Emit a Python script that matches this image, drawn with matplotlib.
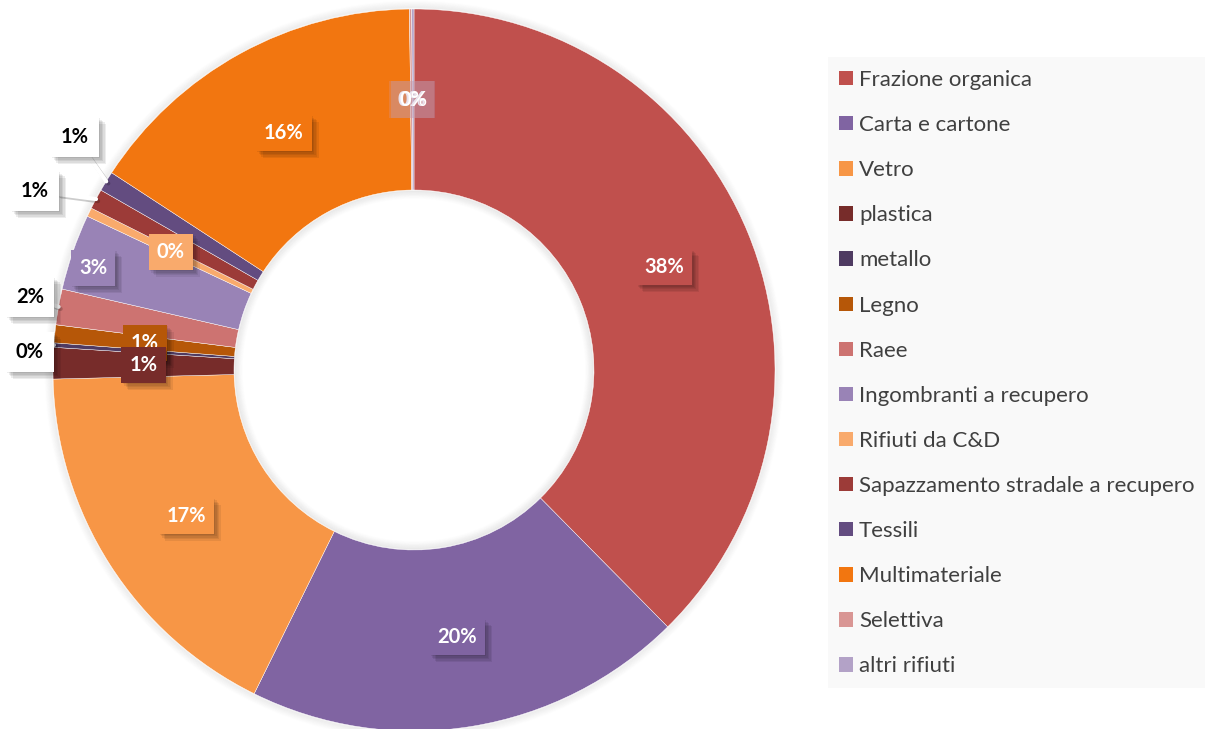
import numpy as np
import matplotlib.pyplot as plt
import matplotlib.patheffects as pe
from matplotlib.patches import Rectangle, Circle

categories = ["Frazione organica", "Carta e cartone", "Vetro", "plastica", "metallo",
              "Legno", "Raee", "Ingombranti a recupero", "Rifiuti da C&D",
              "Sapazzamento stradale a recupero", "Tessili", "Multimateriale",
              "Selettiva", "altri rifiuti"]
values = [37.6, 19.7, 17.3, 1.4, 0.2, 0.8, 1.6, 3.4, 0.4, 0.9, 0.9, 15.6, 0.1, 0.1]
colors = ["#C0504D", "#8064A2", "#F79646", "#772C2A", "#4F3B62", "#B65708", "#CD7371",
          "#9983B6", "#F9AA6C", "#9C3B38", "#634C80", "#F27610", "#D99694", "#B3A2C7"]

# labels that sit outside the ring (with leader) or are nudged, in pixel coords
outside_pos = {4: (30, 352), 6: (30, 297), 9: (35, 191), 10: (75, 137)}
nudged_pos = {7: (93, 268)}
# the two slivers at the top get see-through label boxes
faint_boxes = {12, 13}

plt.rcParams["font.family"] = ["Lato", "DejaVu Sans"]

W, H = 1205, 729
cx, cy = 414, 370
r_out, r_in = 361, 180

fig = plt.figure(figsize=(W / 100, H / 100), dpi=100)
ax = fig.add_axes([0, 0, 1, 1])

# legend panel
ax.add_patch(Rectangle((828, 57), W - 828, 688 - 57, fc="#F9F9F9", ec="none", zorder=0))

# soft halo round the ring
for i in range(1, 9):
    ax.add_patch(Circle((cx, cy), r_out + i, fill=False, ec="black", lw=1.2,
                        alpha=0.05 * (1 - i / 9), zorder=1))
    ax.add_patch(Circle((cx, cy), r_in - i, fill=False, ec="black", lw=1.2,
                        alpha=0.06 * (1 - i / 9), zorder=1))

# y runs downwards, so a "counterclockwise" pie starting at -90 reads clockwise from the top
wedges, _ = ax.pie(values, colors=colors, startangle=-90, counterclock=True,
                   radius=r_out, center=(cx, cy),
                   wedgeprops=dict(width=r_out - r_in, edgecolor="white", linewidth=0.3),
                   frame=True)
for w in wedges:
    w.set_zorder(2)

ax.set_xlim(0, W)
ax.set_ylim(H, 0)
ax.set_aspect("auto")
ax.axis("off")

total = sum(values)
# stacked offsets give the box shadows a soft edge
shadow = [pe.SimplePatchShadow(offset=(k, -k), shadow_rgbFace="black", alpha=0.07)
          for k in range(1, 6)] + [pe.Normal()]
r_mid = (r_out + r_in) / 2
for i, (w, v) in enumerate(zip(wedges, values)):
    pct = f"{100 * v / total:.0f}%"
    theta = np.deg2rad((w.theta1 + w.theta2) / 2)
    ex, ey = cx + r_out * np.cos(theta), cy + r_out * np.sin(theta)
    if i in outside_pos:
        t = ax.annotate(pct, xy=(ex, ey), xytext=outside_pos[i], ha="center", va="center",
                        fontsize=14.5, fontweight="bold", color="black", zorder=6,
                        bbox=dict(boxstyle="square,pad=0.5", fc="white", ec="none"),
                        arrowprops=dict(arrowstyle="-", color="white", lw=3,
                                        shrinkA=0, shrinkB=0,
                                        path_effects=[pe.SimpleLineShadow(offset=(1.5, -1.5), alpha=0.2),
                                                      pe.Normal()]))
        t.get_bbox_patch().set_path_effects(shadow)
    else:
        if i in nudged_pos:
            lx, ly = nudged_pos[i]
        else:
            lx, ly = cx + r_mid * np.cos(theta), cy + r_mid * np.sin(theta)
        t = ax.text(lx, ly, pct, ha="center", va="center", fontsize=14.5,
                    fontweight="bold", color="white", zorder=5 if i != 3 else 5.5,
                    bbox=dict(boxstyle="square,pad=0.4", fc=colors[i], ec="none",
                              alpha=0.3 if i in faint_boxes else 1))
        if i not in faint_boxes:
            t.get_bbox_patch().set_path_effects(shadow)

leg = ax.legend(wedges, categories, loc="upper left",
                bbox_to_anchor=(839 / W, 1 - 70 / H), bbox_transform=fig.transFigure,
                frameon=False, fontsize=16, handlelength=0.62, handleheight=0.62,
                handletextpad=0.28, labelspacing=1.13, borderpad=0, borderaxespad=0)
leg.set_zorder(7)
for txt in leg.get_texts():
    txt.set_color("#404040")
for h in leg.legend_handles:
    h.set_edgecolor("none")

fig.savefig("out.png", dpi=100)
